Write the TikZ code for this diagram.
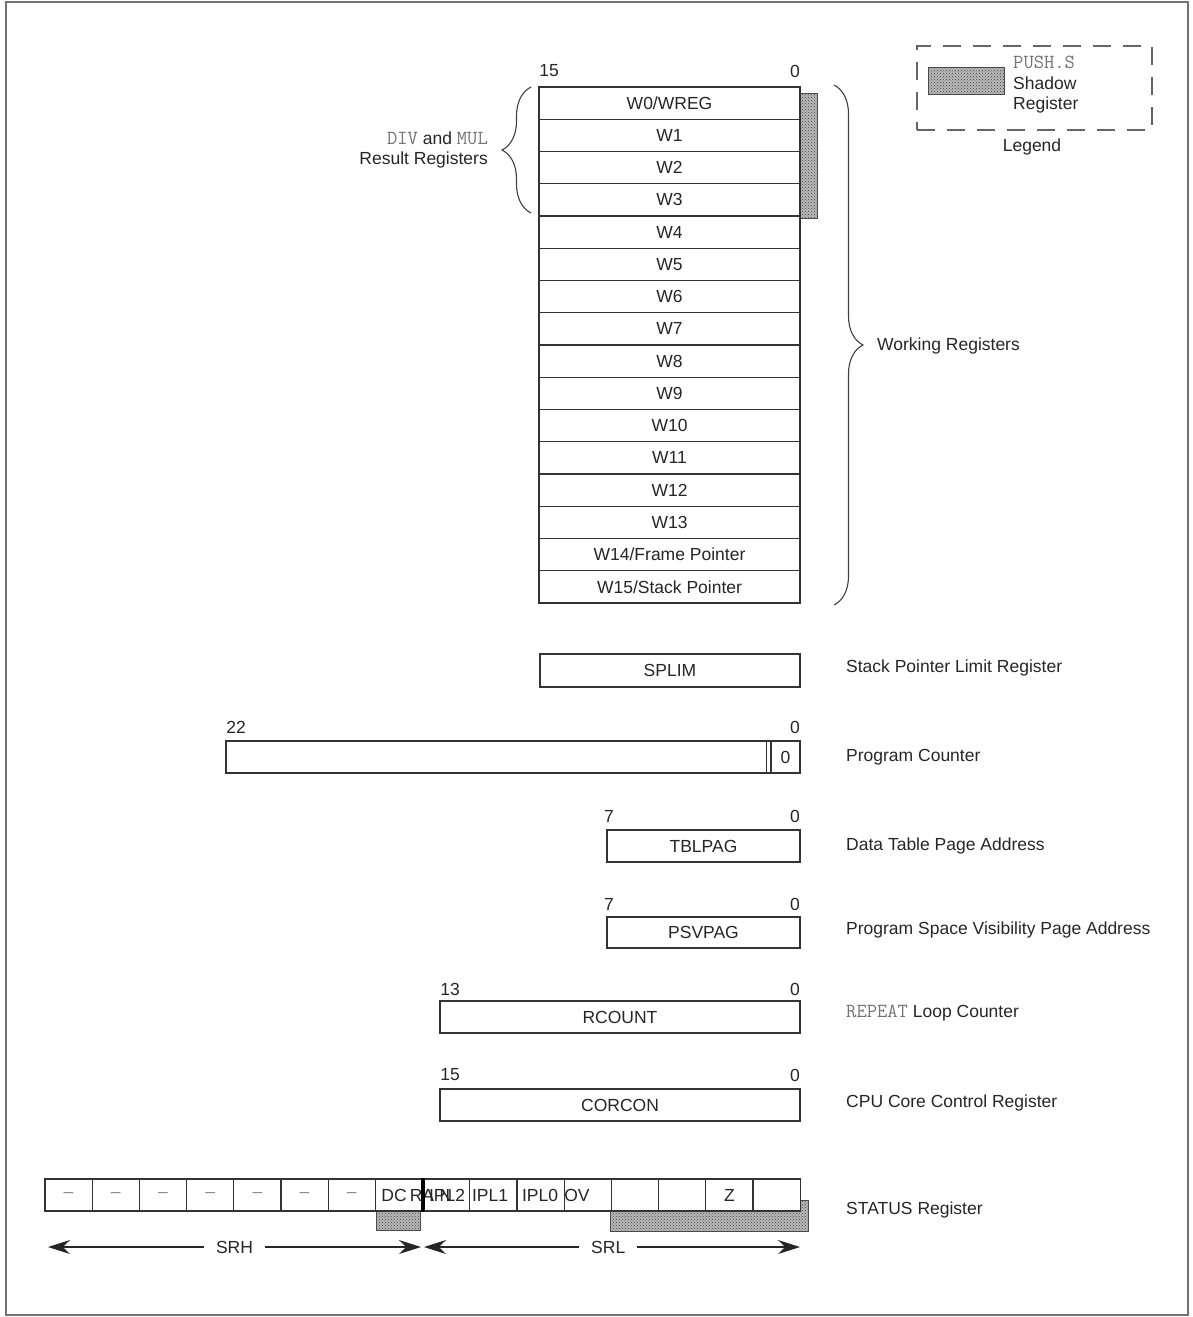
\documentclass[tikz,border=0pt]{standalone}
\usepackage{fontspec}
\setmainfont{Liberation Sans}
\usetikzlibrary{arrows.meta,decorations.pathreplacing,patterns}
\newcommand{\regmono}{\ttfamily\fontsize{20}{20.5}\selectfont\color{black!55}}

\tikzset{
  reg/.style={draw=black!80, line width=1.2pt, fill=white, inner sep=0pt, minimum height=32.25pt, text=black!85},
  wreg/.style={reg, minimum width=261pt},
  sbit/.style={reg, minimum width=47.19pt, minimum height=32pt},
  shadowreg/.style={draw=black!70, line width=0.9pt, fill=gray!55, postaction={pattern=crosshatch dots, pattern color=black!75}},
  lbl/.style={text=black!85, inner sep=0pt},
  rlbl/.style={lbl, anchor=west},
  regbrace/.style={draw=black!75, line width=1.1pt, decorate},
  sarrow/.style={draw=black!85, line width=1.1pt, {Stealth[length=22pt,width=14pt]}-{Stealth[length=22pt,width=14pt]}}
}

\begin{document}
\begin{tikzpicture}[x=1pt,y=-1pt,font=\fontsize{17.5}{20.5}\selectfont]
       \useasboundingbox (0,0) rectangle (1193,1317);
       \draw[black!55, line width=1.2pt] (6,2) rectangle (1188,1315);
       % legend
       \node[draw=black!60, dash pattern=on 18pt off 12pt, line width=1.2pt, minimum width=235pt, minimum height=84pt] (legbox) at (1034.5,88) {};
       \draw[shadowreg] (928,67) rectangle (1004,94);
       \node[rlbl, align=left] (legtxt) at (1013,85) {{\regmono PUSH.S}\\Shadow\\Register};
       \node[lbl] (legend) at (1032,147) {Legend};
       % working registers
       \draw[shadowreg] (800,93) rectangle (817,218);
       \node[wreg] (w0) at (669.5,103.1) {W0/WREG}; \node[wreg] (w1) at (669.5,135.4) {W1};
       \node[wreg] (w2) at (669.5,167.6) {W2}; \node[wreg] (w3) at (669.5,199.9) {W3};
       \node[wreg] (w4) at (669.5,232.1) {W4}; \node[wreg] (w5) at (669.5,264.4) {W5};
       \node[wreg] (w6) at (669.5,296.6) {W6}; \node[wreg] (w7) at (669.5,328.9) {W7};
       \node[wreg] (w8) at (669.5,361.1) {W8}; \node[wreg] (w9) at (669.5,393.4) {W9};
       \node[wreg] (w10) at (669.5,425.6) {W10}; \node[wreg] (w11) at (669.5,457.9) {W11};
       \node[wreg] (w12) at (669.5,490.1) {W12}; \node[wreg] (w13) at (669.5,522.4) {W13};
       \node[wreg] (w14) at (669.5,554.6) {W14/Frame Pointer}; \node[wreg] (w15) at (669.5,586.9) {W15/Stack Pointer};
       \node[lbl] (wmsb) at (549,71) {15}; \node[lbl] (wlsb) at (795,71) {0};
       \coordinate (dmtop) at (531,87); \coordinate (dmbot) at (531,213);
       \draw[regbrace, decoration={brace, amplitude=29pt}] (dmbot) -- (dmtop);
       \node[lbl, anchor=east, align=right] (divmul) at (488,150) {{\regmono DIV} and {\regmono MUL}\\Result Registers};
       \coordinate (wtop) at (834,85); \coordinate (wbot) at (834,605);
       \draw[regbrace, decoration={brace, amplitude=29pt}] (wtop) -- (wbot);
       \node[rlbl] (wlbl) at (877,346) {Working Registers};
       % SPLIM
       \node[reg, minimum width=260pt, minimum height=33pt] (splim) at (670,670.5) {SPLIM};
       \node[rlbl] (splimlbl) at (846,668) {Stack Pointer Limit Register};
       % program counter
       \node[reg, minimum width=574pt, minimum height=32pt] (pc) at (513,757) {};
       \node[reg, minimum width=29pt, minimum height=32pt] (pc0) at (785.5,757) {0};
       \draw[black!80, line width=1.1pt] ([xshift=-4pt]pc0.north west) -- ([xshift=-4pt]pc0.south west);
       \node[lbl] (pcmsb) at (236,727) {22}; \node[lbl] (pclsb) at (795,727) {0};
       \node[rlbl] (pclbl) at (846,757) {Program Counter};
       % TBLPAG
       \node[reg, minimum width=193pt, minimum height=32pt] (tblpag) at (703.5,846) {TBLPAG};
       \node[lbl] (tblmsb) at (609,816) {7}; \node[lbl] (tbllsb) at (795,816) {0};
       \node[rlbl] (tbllbl) at (846,846) {Data Table Page Address};
       % PSVPAG
       \node[reg, minimum width=193pt, minimum height=31pt] (psvpag) at (703.5,932.5) {PSVPAG};
       \node[lbl] (psvmsb) at (609,904) {7}; \node[lbl] (psvlsb) at (795,904) {0};
       \node[rlbl] (psvlbl) at (846,930) {Program Space Visibility Page Address};
       % RCOUNT
       \node[reg, minimum width=360pt, minimum height=32pt] (rcount) at (620,1017) {RCOUNT};
       \node[lbl] (rcmsb) at (450,989) {13}; \node[lbl] (rclsb) at (795,989) {0};
       \node[rlbl] (rclbl) at (846,1013) {{\regmono REPEAT} Loop Counter};
       % CORCON
       \node[reg, minimum width=360pt, minimum height=32pt] (corcon) at (620,1105) {CORCON};
       \node[lbl] (ccmsb) at (450,1075) {15}; \node[lbl] (cclsb) at (795,1075) {0};
       \node[rlbl] (cclbl) at (846,1103) {CPU Core Control Register};
       % STATUS register
       \draw[shadowreg] (610,1200) rectangle (808,1231); \draw[shadowreg] (376,1205) rectangle (420,1230);
       \node[sbit] (s15) at (68.6,1195) {\color{black!45}–}; \node[sbit] (s14) at (115.8,1195) {\color{black!45}–};
       \node[sbit] (s13) at (163.0,1195) {\color{black!45}–}; \node[sbit] (s12) at (210.2,1195) {\color{black!45}–};
       \node[sbit] (s11) at (257.4,1195) {\color{black!45}–}; \node[sbit] (s10) at (304.6,1195) {\color{black!45}–};
       \node[sbit] (s9) at (351.8,1195) {\color{black!45}–}; \node[sbit] (s8) at (399.0,1195) {};
       \node[sbit] (s7) at (446.2,1195) {}; \node[sbit] (s6) at (493.4,1195) {};
       \node[sbit] (s5) at (540.6,1195) {}; \node[sbit] (s4) at (587.8,1195) {};
       \node[sbit] (s3) at (635.0,1195) {}; \node[sbit] (s2) at (682.2,1195) {};
       \node[sbit] (s1) at (729.4,1195) {Z}; \node[sbit] (s0) at (776.6,1195) {};
       \node[lbl] (dc) at (394,1195) {DC}; \node[lbl] (ra) at (422,1195) {RA};
       \draw[black, line width=4.5pt] (s8.north east) -- (s8.south east);
       \node[lbl] (ipl2) at (447,1195) {IPL2}; \node[lbl] (nbit) at (446,1195) {N};
       \node[lbl] (ipl1) at (490,1195) {IPL1}; \node[lbl] (ipl0) at (540,1195) {IPL0};
       \node[lbl] (ov) at (577,1195) {OV};
       \node[rlbl] (stlbl) at (846,1210) {STATUS Register};
       \coordinate (srhl) at (48,1247); \coordinate (srhr) at (421,1247);
       \coordinate (srll) at (424,1247); \coordinate (srlr) at (800,1247);
       \draw[sarrow] (srhl) -- node[lbl, fill=white, inner xsep=12pt, inner ysep=2pt] (srh) {SRH} (srhr);
       \draw[sarrow] (srll) -- node[lbl, fill=white, inner xsep=12pt, inner ysep=2pt, pos=0.49] (srl) {SRL} (srlr);
\end{tikzpicture}
\end{document}
